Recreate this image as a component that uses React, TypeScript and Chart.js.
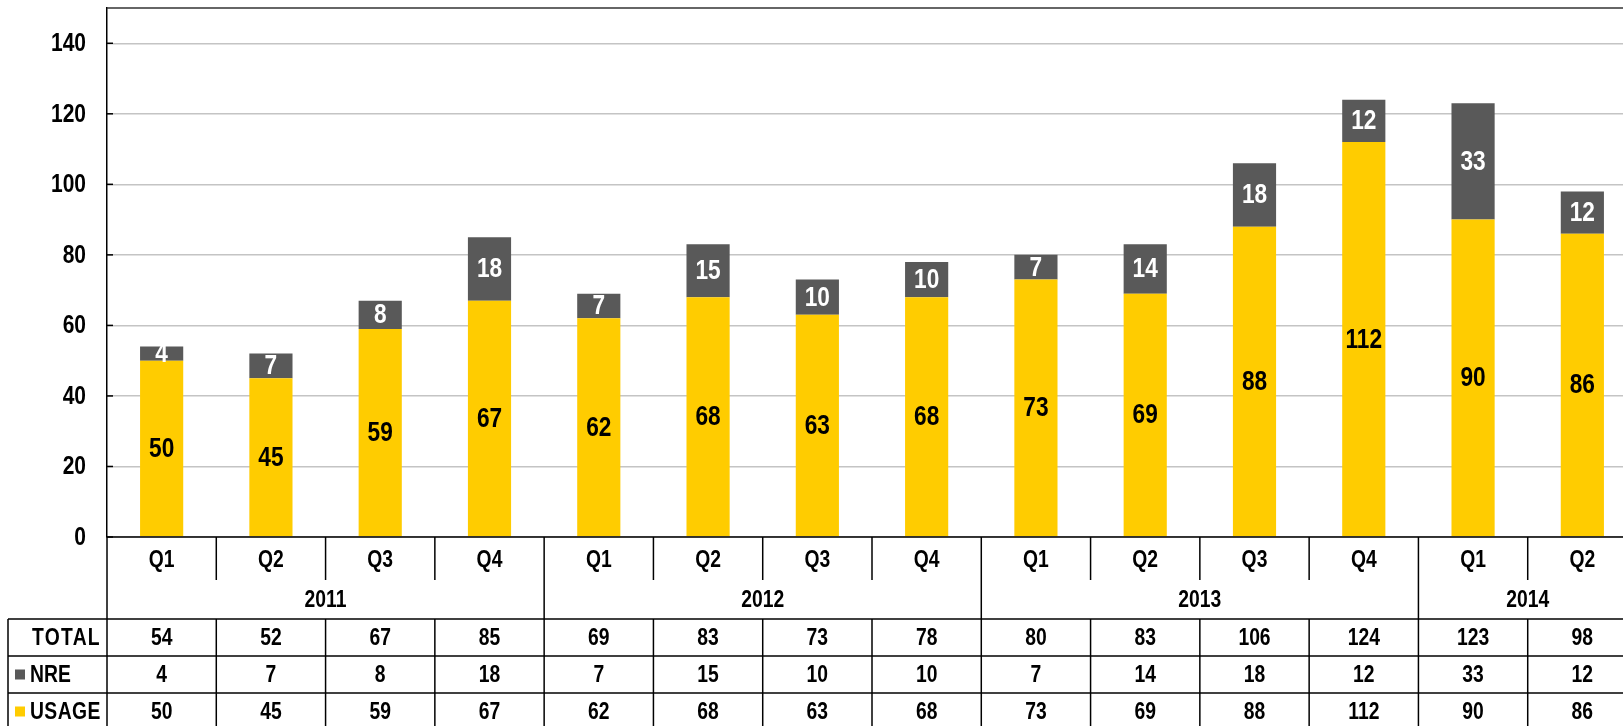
import { useEffect, useRef } from "react";
import { Chart, registerables } from "chart.js";

Chart.register(...registerables);

const quarters = ["Q1", "Q2", "Q3", "Q4", "Q1", "Q2", "Q3", "Q4", "Q1", "Q2", "Q3", "Q4", "Q1", "Q2"];
const years = ["2011", "2012", "2013", "2014"];
const yearSpans = [4, 4, 4, 2];
const usage = [50, 45, 59, 67, 62, 68, 63, 68, 73, 69, 88, 112, 90, 86];
const nre = [4, 7, 8, 18, 7, 15, 10, 10, 7, 14, 18, 12, 33, 12];
const totals = [54, 52, 67, 85, 69, 83, 73, 78, 80, 83, 106, 124, 123, 98];
const rowLabels = ["TOTAL", "NRE", "USAGE"];

const YELLOW = "#FFCC00";
const GRAY = "#595959";
const FONT = "'Liberation Sans', Arial, sans-serif";
const NARROW = 0.84;

function narrowText(ctx: any, text: string, x: number, y: number, spacing = 0) {
  ctx.save();
  ctx.translate(x, y);
  ctx.scale(NARROW, 1);
  if (spacing) (ctx as any).letterSpacing = `${spacing}px`;
  ctx.fillText(text, 0, 0);
  ctx.restore();
}

const barLabelPlugin = {
  id: "barLabels",
  afterDatasetsDraw(chart: any) {
    const ctx = chart.ctx;
    ctx.save();
    ctx.font = `bold 27px ${FONT}`;
    ctx.textAlign = "center";
    ctx.textBaseline = "middle";
    chart.data.datasets.forEach((ds: any, di: number) => {
      const meta = chart.getDatasetMeta(di);
      ctx.fillStyle = di === 0 ? "#000000" : "#FFFFFF";
      meta.data.forEach((el: any, i: number) => {
        const cy = (el.y + el.base) / 2;
        narrowText(ctx, String(ds.data[i]), el.x, cy + 1);
      });
    });
    ctx.restore();
  },
};

const tablePlugin = {
  id: "dataTable",
  afterDraw(chart: any) {
    const ctx = chart.ctx;
    const ca = chart.chartArea;
    const xs = chart.scales.x;
    const ys = chart.scales.y;
    const n = quarters.length;
    const centers = quarters.map((_, i) => xs.getPixelForValue(i));
    const bounds: number[] = [ca.left];
    for (let i = 0; i < n - 1; i++) bounds.push((centers[i] + centers[i + 1]) / 2);
    bounds.push(ca.right);

    const yAxis = ca.bottom;
    const yQ = yAxis + 43;
    const yYear = yAxis + 82;
    const rowH = 37;
    const rows = [yYear, yYear + rowH, yYear + 2 * rowH, yYear + 3 * rowH];
    const tableLeft = 8;

    const line = (x1: number, y1: number, x2: number, y2: number) => {
      ctx.beginPath();
      ctx.moveTo(x1, y1);
      ctx.lineTo(x2, y2);
      ctx.stroke();
    };

    ctx.save();
    // y tick labels and inner tick marks
    ctx.fillStyle = "#000";
    ctx.textAlign = "right";
    ctx.textBaseline = "middle";
    ctx.font = `bold 25px ${FONT}`;
    ctx.strokeStyle = "#000";
    ctx.lineWidth = 1.5;
    ys.ticks.forEach((t: any) => {
      const py = ys.getPixelForValue(t.value);
      line(ca.left, py, ca.left + 6, py);
      narrowText(ctx, String(t.value), ca.left - 21, py + 1);
    });
    // top frame
    ctx.strokeStyle = "#333";
    line(ca.left, ca.top, ca.right, ca.top);
    line(ca.right, ca.top, ca.right, yAxis);

    ctx.strokeStyle = "#000";
    ctx.lineWidth = 1.5;
    line(ca.left, yAxis, ca.right, yAxis);
    rows.forEach((ry) => line(tableLeft, ry, ca.right, ry));
    line(tableLeft, rows[0], tableLeft, rows[3]);
    line(ca.left, yAxis, ca.left, rows[3]);
    line(ca.right, yAxis, ca.right, rows[3]);

    const yearBounds = new Set<number>();
    let acc = 0;
    yearSpans.forEach((s) => {
      acc += s;
      yearBounds.add(acc);
    });
    for (let i = 1; i < n; i++) {
      const bx = bounds[i];
      if (yearBounds.has(i)) {
        line(bx, yAxis, bx, rows[3]);
      } else {
        line(bx, yAxis, bx, yQ);
        line(bx, rows[0], bx, rows[3]);
      }
    }

    ctx.fillStyle = "#000";
    ctx.textAlign = "center";
    ctx.textBaseline = "middle";
    ctx.font = `bold 23px ${FONT}`;
    quarters.forEach((q, i) => narrowText(ctx, q, centers[i], (yAxis + yQ) / 2 + 2));

    let start = 0;
    years.forEach((yr, k) => {
      const end = start + yearSpans[k];
      const cx = (bounds[start] + bounds[end]) / 2;
      narrowText(ctx, yr, cx, (yQ + yYear) / 2 + 1);
      start = end;
    });

    const rowData = [totals, nre, usage];
    rowData.forEach((arr, r) => {
      const cy = (rows[r] + rows[r + 1]) / 2 + 1;
      arr.forEach((v, i) => narrowText(ctx, String(v), centers[i], cy));
    });

    ctx.textAlign = "left";
    narrowText(ctx, rowLabels[0], 32, (rows[0] + rows[1]) / 2 + 1, 1.5);
    narrowText(ctx, rowLabels[1], 30, (rows[1] + rows[2]) / 2 + 1);
    narrowText(ctx, rowLabels[2], 30, (rows[2] + rows[3]) / 2 + 1, 0.5);
    ctx.fillStyle = GRAY;
    ctx.fillRect(15, (rows[1] + rows[2]) / 2 - 5, 10, 10);
    ctx.fillStyle = YELLOW;
    ctx.fillRect(15, (rows[2] + rows[3]) / 2 - 5, 10, 10);
    ctx.restore();
  },
};

export default function App() {
  const ref = useRef<HTMLCanvasElement | null>(null);

  useEffect(() => {
    if (!ref.current) return;
    const chart = new Chart(ref.current, {
      type: "bar",
      data: {
        labels: quarters,
        datasets: [
          {
            label: "USAGE",
            data: usage,
            backgroundColor: YELLOW,
            barPercentage: 0.395,
            categoryPercentage: 1,
          },
          {
            label: "NRE",
            data: nre,
            backgroundColor: GRAY,
            barPercentage: 0.395,
            categoryPercentage: 1,
          },
        ],
      },
      options: {
        responsive: false,
        animation: false,
        devicePixelRatio: 1,
        layout: { padding: { left: 0, top: 8, right: 8, bottom: 189 } },
        plugins: { legend: { display: false }, tooltip: { enabled: false } },
        scales: {
          x: { stacked: true, display: false },
          y: {
            stacked: true,
            min: 0,
            max: 150,
            afterBuildTicks: (axis: any) => {
              axis.ticks = axis.ticks.filter((t: any) => t.value <= 140);
            },
            afterFit: (scale: any) => {
              scale.width = 107;
              scale.paddingTop = 0;
              scale.paddingBottom = 0;
            },
            ticks: {
              stepSize: 20,
              display: false,
            },
            grid: { color: "#c4c4c4", lineWidth: 1.5, drawTicks: false },
            border: { color: "#000", width: 1.5 },
          },
        },
      },
      plugins: [barLabelPlugin, tablePlugin],
    });
    return () => chart.destroy();
  }, []);

  return (
    <div
      style={{
        position: "fixed",
        left: 0,
        top: 0,
        width: 1623,
        height: 726,
        overflow: "hidden",
        background: "#fff",
      }}
    >
      <canvas ref={ref} width={1645} height={726} style={{ width: 1645, height: 726, display: "block" }} />
    </div>
  );
}
